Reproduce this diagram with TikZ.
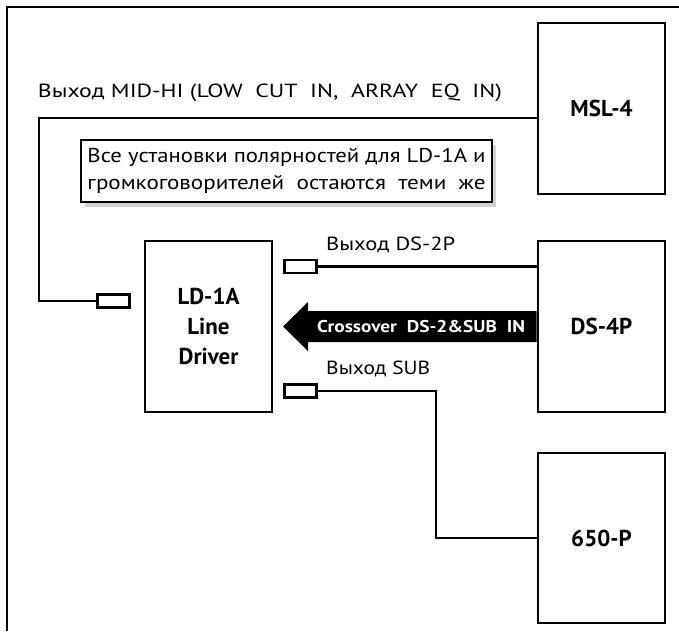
\documentclass[tikz,border=0pt]{standalone}
\usepackage{fontspec}
\usepackage{graphicx}
\setmainfont{PT Sans}
\begin{document}
\begin{tikzpicture}[x=1pt,y=-1pt,
  box/.style={draw,line width=2.6pt,inner sep=0pt,minimum width=127pt,font=\bfseries\fontsize{23}{26}\selectfont,align=center},
  plug/.style={draw,line width=2.2pt,minimum width=32pt,minimum height=13pt,inner sep=0pt},
  wire/.style={line width=2.2pt},
  lbl/.style={font=\fontsize{19}{22}\selectfont,inner sep=0pt},
  note/.style={draw,line width=1.4pt,fill=white,minimum width=411pt,minimum height=62pt,inner sep=0pt,font=\fontsize{20}{27}\selectfont,align=left}]
\useasboundingbox (0,0) rectangle (679,631);
\draw[line width=1.4pt] (679,7) -- (7,7) -- (7,631);

% boxes
\node[box,minimum height=171pt] (msl) at (601.5,108.5) {MSL-4};
\node[box,minimum height=171pt] (ds) at (601.5,326.5) {DS-4P};
\node[box,minimum height=170pt] (sub) at (601.5,538) {650-P};
\node[box,minimum height=171pt,font=\bfseries\fontsize{23}{30}\selectfont] (ld) at (208.5,326.5) {LD-1A\\Line\\Driver};

% note with shadow
\fill[gray!35] (85,145) rectangle (496,207);
\node[note] (nt) at (286.5,171) {\resizebox{398pt}{\height}{Все установки полярностей для LD-1A и}\\\resizebox{398pt}{\height}{громкоговорителей\ \ остаются\ \ теми\ \ же}};

% plugs
\node[plug] (pl) at (113.5,301) {};
\node[plug] (p2) at (300.5,266.5) {};
\node[plug] (p3) at (300.5,391) {};

% wires
\coordinate (c1) at (39,118);
\draw[wire] (pl.west) -| (c1) -- (msl.west |- c1);
\draw[wire] (p2.east) -- (p2.east -| ds.west);
\coordinate (c2) at (436,391);
\draw[wire] (p3.east) -- (c2) |- (sub.west);

% labels
\node[lbl] (l1) at (270,93) {\resizebox{464pt}{\height}{Выход MID-HI (LOW\ \ CUT\ \ IN,\ \ ARRAY\ \ EQ\ \ IN)}};
\node[lbl,anchor=west] (l2) at (326,245) {\resizebox{129pt}{\height}{Выход DS-2P}};
\node[lbl,anchor=west] (l3) at (326,369) {\resizebox{104pt}{\height}{Выход SUB}};

% big arrow
\fill (ds.west |- 0,311) -- (308,311) -- (308,302) -- (283,326.5) -- (308,351) -- (308,342) -- (ds.west |- 0,342) -- cycle;
\node[text=white,font=\bfseries\fontsize{17}{19}\selectfont,inner sep=0pt] (at) at (421,327) {\resizebox{208pt}{\height}{Crossover\ \ DS-2\&SUB\ \ IN}};
\end{tikzpicture}
\end{document}
